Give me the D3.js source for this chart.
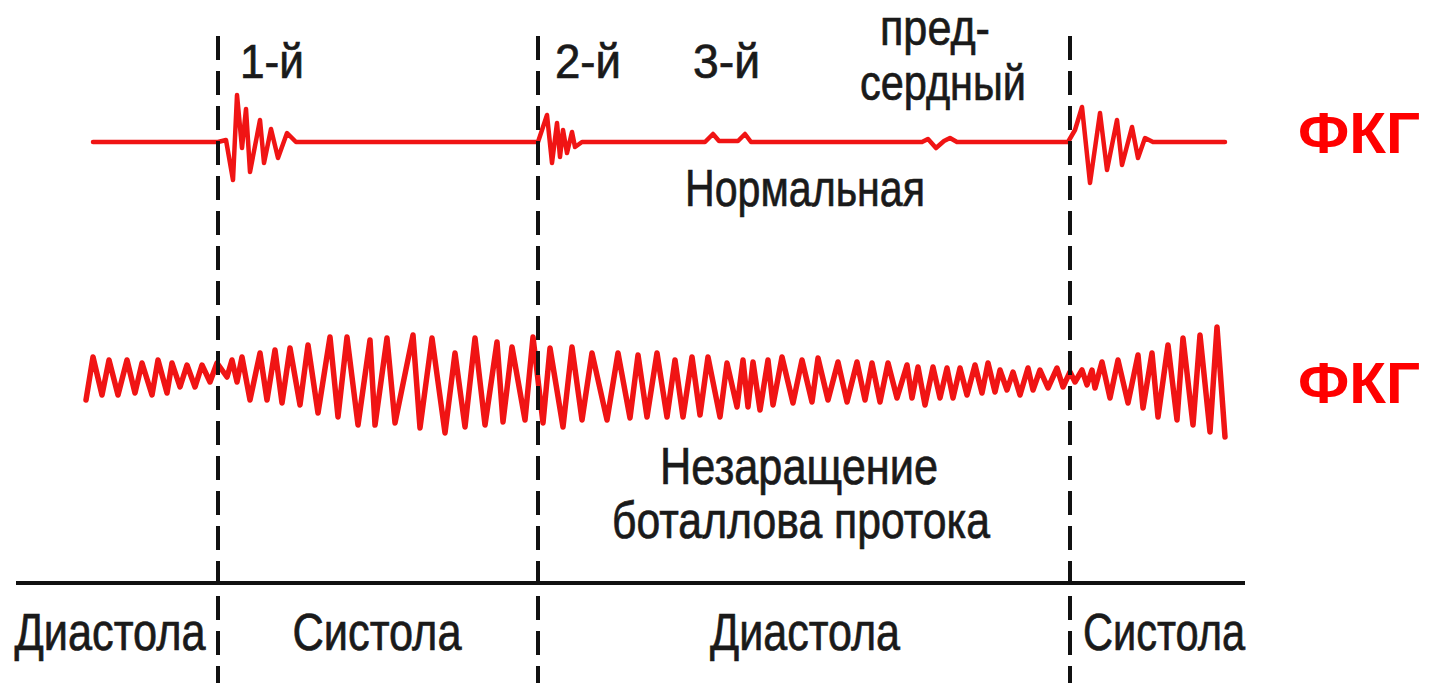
<!DOCTYPE html>
<html><head><meta charset="utf-8">
<script src="https://cdn.jsdelivr.net/npm/d3@7"></script>
<style>html,body{margin:0;padding:0;background:#fff;overflow:hidden}</style>
</head><body>
<svg id="chart" width="1431" height="683"></svg>
<script>
// ---- data (time in ms-like units, 0 = onset of 1st sound; amplitude in relative units) ----
const phaseBoundaries = [0, 320, 852];
const phaseLabels = ["Диастола", "Систола", "Диастола", "Систола"];
const phaseCenters = [-108, 159, 587, 946];
const phaseWidths = [191, 169, 190, 162];

const soundLabels = ["1-й", "2-й", "3-й"];
const soundTimes = [22, 337, 475];

const atrialLabel = ["пред-", "сердный"];
const atrialTime = 717;

const normalLabel = "Нормальная";
const pdaLabel = ["Незаращение", "боталлова протока"];
const seriesLabel = "ФКГ";

// Normal phonocardiogram [time, amplitude]
const normalWave = [
  [-125,0],[0,0],[8,2],[15,-38],[19,47],[24,-6],[28,33],[32,-30],[42,22],[46,-21],[53,13],[60,-16],[69,9],[78,0],
  [320,0],[329,27],[334,-21],[339,19],[342,-15],[345,12],[349,-11],[354,10],[357,-5],[364,0],
  [487,0],[495,8],[501,1],[520,1],[527,8],[533,0],
  [704,0],[710,3],[718,-6],[726,1],[732,4],[739,0],
  [850,0],[857,12],[864,35],[872,-41],[882,29],[889,-28],[899,22],[904,-23],[914,15],[920,-16],[927,4],[935,0],[1007,0]
];

// Patent ductus arteriosus phonocardiogram [time, amplitude]
const pdaWave = [
  [-132,-20],[-125,23],[-116,-15],[-109,20],[-100,-15],[-91,20],[-83,-13],[-76,17],[-66,-15],[-60,20],[-51,-13],[-46,17],
  [-38,-7],[-31,15],[-23,-7],[-16,15],[-8,-2],[-1,17],
  [9,3],[14,20],[19,-2],[24,23],[32,-20],[42,27],[49,-20],[57,30],[64,-23],[72,32],[82,-25],[90,35],[100,-33],[112,43],
  [120,-37],[129,43],[140,-45],[152,40],[157,-45],[169,42],[177,-43],[195,45],[202,-48],[214,42],[227,-53],[237,27],
  [247,-47],[257,42],[267,-45],[279,38],[285,-42],[294,33],[307,-40],[315,43],[325,-43],[332,32],[345,-47],[354,33],
  [364,-40],[374,27],[389,-40],[400,27],[412,-38],[420,25],[429,-37],[439,27],[449,-37],[457,20],[465,-37],[474,23],
  [482,-35],[490,23],[502,-37],[509,17],[519,-27],[525,20],[530,-27],[535,18],[542,-30],[550,20],[555,-25],[564,23],
  [575,-23],[584,20],[594,-22],[600,22],[610,-20],[620,18],[629,-22],[639,18],[647,-20],[654,17],[662,-22],[670,17],
  [679,-18],[689,15],[694,-18],[700,13],[707,-25],[715,13],[722,-18],[729,12],[735,-18],[742,12],[749,-15],[757,15],
  [764,-13],[770,17],[777,-12],[782,10],[789,-10],[795,8],[802,-15],[810,12],[815,-10],[822,10],[830,-8],[839,12],
  [845,-7],[852,8],[857,-2],[864,10],[869,-5],[874,10],[877,-8],[884,18],[892,-18],[900,20],[910,-23],[920,25],
  [925,-28],[934,27],[940,-37],[950,35],[959,-40],[965,42],[975,-45],[982,45],[992,-52],[999,53],[1007,-57]
];

// ---- drawing ----
const svg = d3.select("#chart");
const W = 1431, H = 683;
const x = d3.scaleLinear().domain([-218, 1213]).range([0, W]);
const yTop = d3.scaleLinear().domain([-50, 50]).range([192, 92]);
const yBot = d3.scaleLinear().domain([-50, 50]).range([430, 330]);
const RED = "#f01414";
const txtFont = "'Liberation Sans Narrow','Arial Narrow','Liberation Sans',Arial,sans-serif";

// time axis line
svg.append("line")
  .attr("x1", x(-202)).attr("x2", x(1027))
  .attr("y1", 583).attr("y2", 583)
  .attr("stroke", "#111").attr("stroke-width", 4);

// waves
const line = (ys) => d3.line().x(d => x(d[0])).y(d => ys(d[1]));
svg.append("path").datum(normalWave)
  .attr("d", line(yTop)).attr("fill", "none").attr("stroke", RED)
  .attr("stroke-width", 4.5).attr("stroke-linejoin", "round").attr("stroke-linecap", "round");
svg.append("path").datum(pdaWave)
  .attr("d", line(yBot)).attr("fill", "none").attr("stroke", RED)
  .attr("stroke-width", 5.5).attr("stroke-linejoin", "round").attr("stroke-linecap", "round");

// phase boundaries (dashed)
svg.selectAll("line.bound").data(phaseBoundaries).join("line")
  .attr("class", "bound")
  .attr("x1", d => x(d)).attr("x2", d => x(d))
  .attr("y1", 36).attr("y2", H)
  .attr("stroke", "#111").attr("stroke-width", 4)
  .attr("stroke-dasharray", "24 11");

// text helper
function label(txt, tx, y, w, anchor, opts = {}) {
  const col = opts.color || "#1a1a1a";
  svg.append("text")
    .attr("x", tx).attr("y", y)
    .attr("text-anchor", anchor)
    .attr("font-family", opts.family || txtFont)
    .attr("font-size", opts.size || 52)
    .attr("font-weight", opts.weight || "normal")
    .attr("fill", col)
    .attr("stroke", opts.weight ? "none" : col).attr("stroke-width", 0.7)
    .attr("textLength", w).attr("lengthAdjust", "spacingAndGlyphs")
    .text(txt);
}

// sound labels
const soundWidths = [64, 66, 67];
soundLabels.forEach((s, i) => label(s, x(soundTimes[i]), 78, soundWidths[i], "start", {size: 48}));
label(atrialLabel[0], x(atrialTime), 45, 110, "middle", {size: 50});
label(atrialLabel[1], x(atrialTime) + 8, 100, 166, "middle", {size: 50});

label(normalLabel, x(587), 206, 240, "middle");
label(pdaLabel[0], x(581), 484, 278, "middle");
label(pdaLabel[1], x(583), 538, 378, "middle");

// phase labels
phaseLabels.forEach((s, i) => label(s, x(phaseCenters[i]), 650, phaseWidths[i], "middle", {size: 51}));

// series labels
[153, 403].forEach(yy => label(seriesLabel, 1298, yy, 122, "start",
  {family: "'Liberation Sans',Arial,sans-serif", size: 58, weight: "bold", color: "#ff0000"}));
</script>
</body></html>
